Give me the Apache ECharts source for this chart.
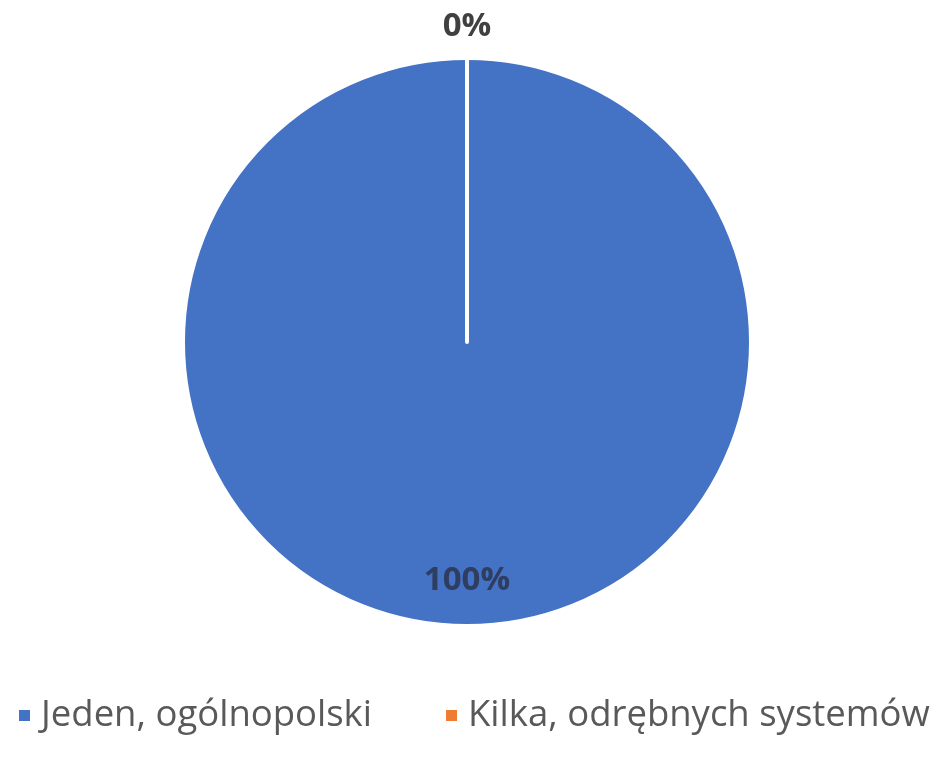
<!DOCTYPE html>
<html>
<head>
<meta charset="utf-8">
<script src="https://cdn.jsdelivr.net/npm/echarts@6/dist/echarts.min.js"></script>
<style>html,body{margin:0;padding:0;background:#fff;}#c{width:940px;height:758px;}</style>
</head>
<body>
<div id="c"></div>
<script>
const categories = ['Jeden, ogólnopolski', 'Kilka, odrębnych systemów'];
const values = [100, 0];
const colors = ['#4472C4', '#ED7D31'];
const labelColors = ['#2f3d60', '#404040'];

const chart = echarts.init(document.getElementById('c'), null, {renderer: 'canvas'});
chart.setOption({
  animation: false,
  backgroundColor: '#ffffff',
  legend: {
    data: categories,
    top: 697,
    left: 17,
    padding: 0,
    itemWidth: 13,
    itemHeight: 13,
    itemGap: 72,
    icon: 'rect',
    textStyle: { fontFamily: 'Open Sans', fontSize: 36.5, color: '#595959', padding: [0, 0, 0, 5] }
  },
  series: [{
    type: 'pie',
    center: [467, 342],
    radius: 284,
    startAngle: 90,
    clockwise: true,
    avoidLabelOverlap: false,
    stillShowZeroSum: true,
    data: categories.map((n, i) => ({
      name: n,
      value: values[i],
      itemStyle: { color: colors[i] },
      label: { color: labelColors[i] }
    })),
    itemStyle: { borderColor: '#ffffff', borderWidth: 4 },
    label: {
      show: true,
      position: 'inside',
      formatter: '{d}%',
      fontFamily: 'Open Sans',
      fontWeight: 'bold',
      fontSize: 33
    },
    labelLine: { show: false },
    labelLayout: function (p) {
      return p.dataIndex === 0 ? { dy: 94 } : { dy: -170 };
    },
    emphasis: { disabled: true }
  }]
});
</script>
</body>
</html>
